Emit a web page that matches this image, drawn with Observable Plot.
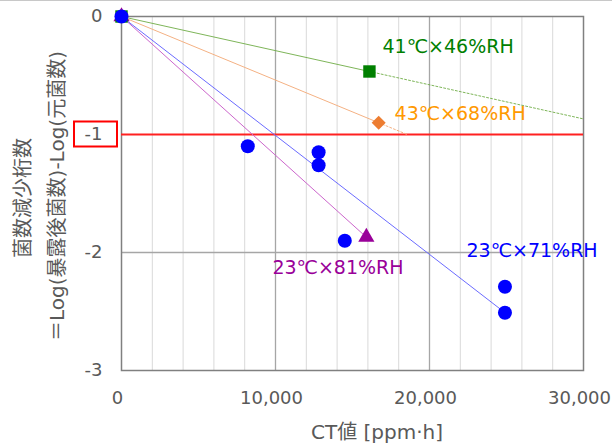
<!DOCTYPE html>
<html>
<head>
<meta charset="utf-8">
<script src="https://cdn.jsdelivr.net/npm/d3@7"></script>
<script src="https://cdn.jsdelivr.net/npm/@observablehq/plot@0.6"></script>
<style>
  html, body { margin: 0; padding: 0; background: #fff; }
  #chart { width: 612px; height: 448px; }
  svg { font-family: "DejaVu Sans", "Noto Sans CJK JP", sans-serif; }
</style>
</head>
<body>
<div id="chart"></div>
<script>
// ---- data ----
const xTicks = [0, 10000, 20000, 30000];
const yTicks = [0, -1, -2, -3];
const minorX = [2000, 4000, 6000, 8000, 12000, 14000, 16000, 18000, 22000, 24000, 26000, 28000];
const majorX = [10000, 20000];

// 23℃×71%RH (blue circles)
const blueX = [0, 8200, 12800, 12800, 14500, 24900, 24900];
const blueY = [0, -1.10, -1.15, -1.26, -1.90, -2.29, -2.51];
// 41℃×46%RH (green square)
const greenX = [0, 16100];
const greenY = [0, -0.466];
// 43℃×68%RH (orange diamond)
const orangeX = [0, 16700];
const orangeY = [0, -0.90];
// 23℃×81%RH (purple triangle)
const purpleX = [0, 15900];
const purpleY = [0, -1.87];

// fitted lines (solid part and dotted extension)
const greenFitX = [0, 16100], greenFitY = [0, -0.466];
const greenExtX = [16100, 30000], greenExtY = [-0.466, -0.868];
const orangeFitX = [0, 16700], orangeFitY = [0, -0.90];
const orangeExtX = [16700, 18550], orangeExtY = [-0.90, -1.0];
const purpleFitX = [0, 15900], purpleFitY = [0, -1.87];
const blueFitX = [0, 24900], blueFitY = [0, -2.51];

// series labels
const labelText = ["41℃×46%RH", "43℃×68%RH", "23℃×81%RH", "23℃×71%RH"];
const labelX = [16950, 17730, 9800, 22400];
const labelY = [-0.254, -0.822, -2.127, -1.99];
const labelColor = ["#008000", "#ff9900", "#990099", "#0000ff"];

const thresholdY = -1;

const zip = (xs, ys) => xs.map((x, i) => ({x, y: ys[i]}));
const labels = labelText.map((t, i) => ({t, x: labelX[i], y: labelY[i], c: labelColor[i]}));

const plot = Plot.plot({
  width: 612,
  height: 448,
  marginLeft: 121,
  marginRight: 29,
  marginTop: 16,
  marginBottom: 78,
  x: {domain: [0, 30000]},
  y: {domain: [-3, 0]},
  style: {fontFamily: '"DejaVu Sans", "Noto Sans CJK JP", sans-serif', background: "#fff", overflow: "visible"},
  marks: [
    Plot.ruleX(minorX, {stroke: "#d9d9d9", strokeWidth: 1}),
    Plot.ruleX(majorX, {stroke: "#a6a6a6", strokeWidth: 1.3}),
    Plot.ruleY([-2], {stroke: "#a6a6a6", strokeWidth: 1.3}),
    Plot.frame({stroke: "#808080", strokeWidth: 1.5}),
    Plot.axisX({ticks: xTicks, tickFormat: d3.format(","), tickSize: 0, tickPadding: 21, dx: -4, fontSize: 18, fill: "#595959", label: null}),
    Plot.axisY({ticks: yTicks, tickFormat: d => d3.format("d")(d).replace("−", "-"), tickSize: 0, tickPadding: 19, fontSize: 18, fill: "#595959", label: null}),
    Plot.ruleY([thresholdY], {stroke: "#ff2020", strokeWidth: 2}),
    Plot.line(zip(greenFitX, greenFitY), {x: "x", y: "y", stroke: "#70ad47", strokeWidth: 1, strokeOpacity: 0.9}),
    Plot.line(zip(greenExtX, greenExtY), {x: "x", y: "y", stroke: "#70ad47", strokeWidth: 1, strokeDasharray: "2,2", strokeOpacity: 0.9}),
    Plot.line(zip(orangeFitX, orangeFitY), {x: "x", y: "y", stroke: "#f4b183", strokeWidth: 1}),
    Plot.line(zip(orangeExtX, orangeExtY), {x: "x", y: "y", stroke: "#f4b183", strokeWidth: 1, strokeDasharray: "2,2"}),
    Plot.line(zip(purpleFitX, purpleFitY), {x: "x", y: "y", stroke: "#cc66cc", strokeWidth: 1}),
    Plot.line(zip(blueFitX, blueFitY), {x: "x", y: "y", stroke: "#6b6bff", strokeWidth: 1}),
    Plot.dot(zip(purpleX, purpleY), {x: "x", y: "y", symbol: "triangle", r: 6, fill: "#990099", stroke: "none"}),
    Plot.dot(zip(greenX, greenY), {x: "x", y: "y", symbol: "square", r: 7, fill: "#008000", stroke: "none"}),
    Plot.dot(zip(orangeX, orangeY), {x: "x", y: "y", symbol: "square", r: 5.6, rotate: 45, fill: "#ed7d31", stroke: "none"}),
    Plot.dot(zip(blueX, blueY), {x: "x", y: "y", symbol: "circle", r: 7, fill: "#0000ff", stroke: "none"}),
    Plot.text(labels, {x: "x", y: "y", text: "t", fill: "c", textAnchor: "start", fontSize: 19})
  ]
});

document.getElementById("chart").appendChild(plot);

const svg = d3.select(plot);
const y = plot.scale("y");
// red box around the -1 label
svg.append("rect")
  .attr("x", 74).attr("y", y.apply(thresholdY) - 12.5)
  .attr("width", 43).attr("height", 25)
  .attr("fill", "none").attr("stroke", "#ff0000").attr("stroke-width", 2);
// outer top border
svg.append("line").attr("x1", 0).attr("x2", 612).attr("y1", 0.5).attr("y2", 0.5)
  .attr("stroke", "#c8c8c8").attr("stroke-width", 1);
// y axis titles
svg.append("text")
  .attr("transform", "translate(23,198) rotate(-90)")
  .attr("text-anchor", "middle").attr("dominant-baseline", "central")
  .attr("font-size", 20).attr("fill", "#595959")
  .text("菌数減少桁数");
svg.append("text")
  .attr("transform", "translate(57,196) rotate(-90)")
  .attr("text-anchor", "middle").attr("dominant-baseline", "central")
  .attr("font-size", 20).attr("fill", "#595959")
  .text("＝Log(暴露後菌数)-Log(元菌数)");
// x axis title
svg.append("text")
  .attr("x", 377).attr("y", 432)
  .attr("text-anchor", "middle").attr("dominant-baseline", "central")
  .attr("font-size", 20).attr("fill", "#595959")
  .text("CT値 [ppm·h]");
</script>
</body>
</html>
